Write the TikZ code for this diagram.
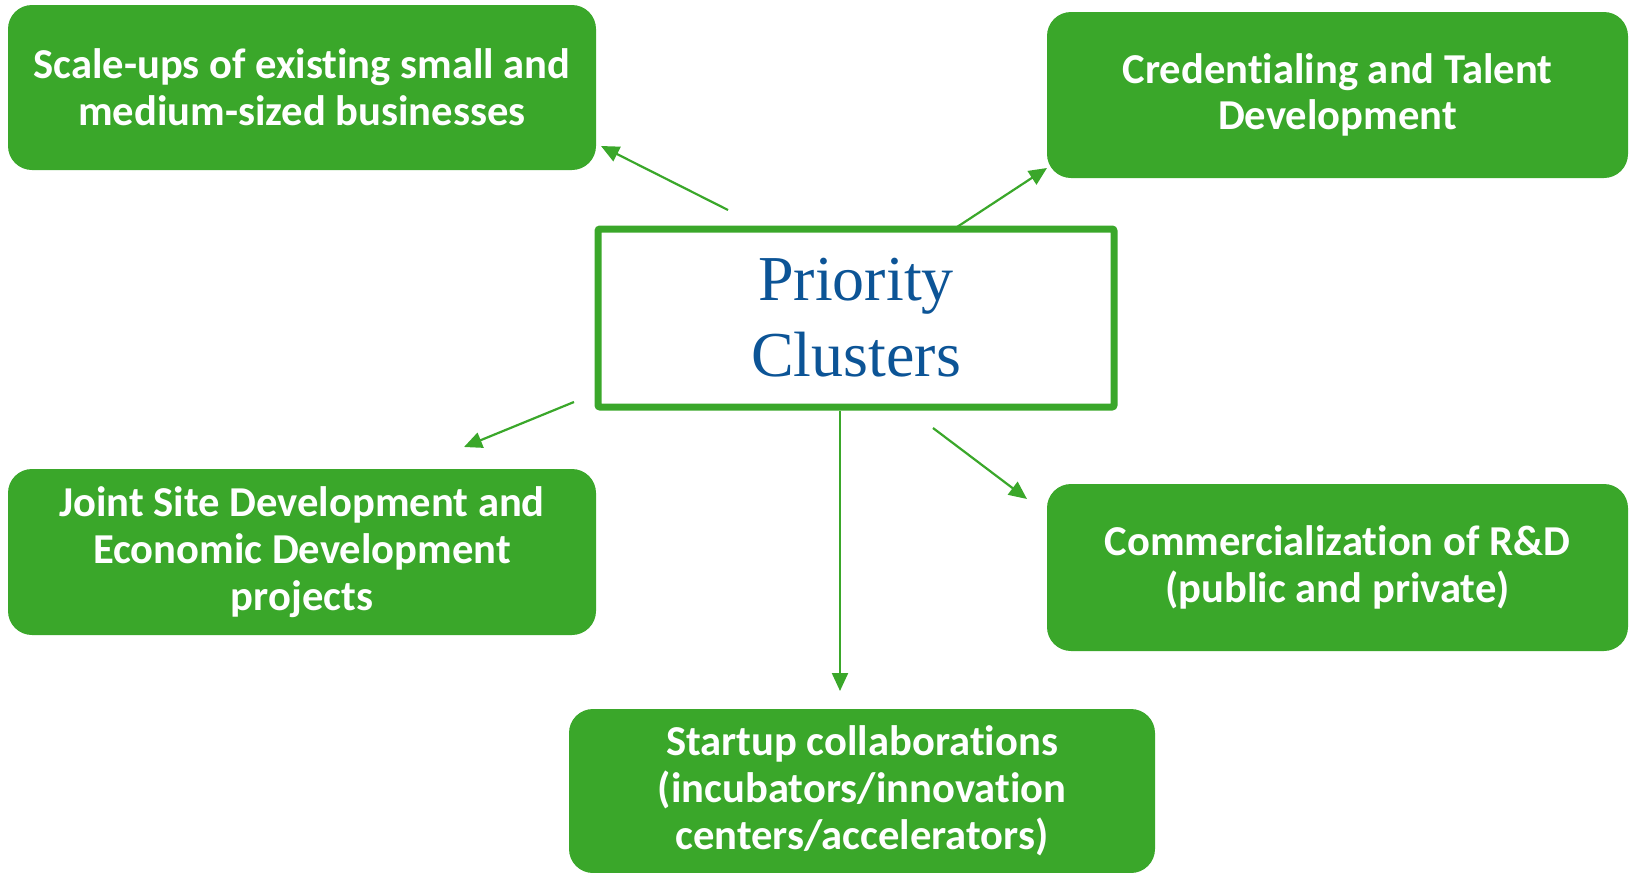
\documentclass[tikz,border=0pt]{standalone}
\usepackage{fontspec}
\setmainfont{Liberation Serif}
\newfontfamily\boxfont[Ligatures=CommonOff]{Carlito}
\usetikzlibrary{arrows.meta}

\definecolor{clustergreen}{RGB}{58,167,42}
\definecolor{clusterblue}{RGB}{12,84,150}

\begin{document}
\begin{tikzpicture}[x=0.5pt, y=-0.5pt,
    greenbox/.style={fill=clustergreen, rounded corners=12pt, text=white, align=center,
      inner sep=0pt, font=\boxfont\bfseries\fontsize{21.3}{23.4}\selectfont},
    link/.style={clustergreen, line width=1.1pt, -{Triangle[length=9pt,width=8pt]}}]

    % --- Canvas ---
    \useasboundingbox (0,0) rectangle (1630,873);

    % --- Centre box ---
    \node[draw=clustergreen, line width=3.5pt, rounded corners=1pt, minimum width=258pt,
      minimum height=89pt, align=center, text=clusterblue,
      font=\fontsize{32}{38}\selectfont] (priority) at (856,318) {Priority\\Clusters};

    % --- Outer boxes ---
    \node[greenbox, minimum width=294pt, minimum height=82.5pt] (scaleups) at (302,87.5)
      {Scale-ups of existing small and\\medium-sized businesses};
    \node[greenbox, minimum width=290.5pt, minimum height=83pt] (talent) at (1337.5,95)
      {Credentialing and Talent\\Development};
    \node[greenbox, minimum width=294pt, minimum height=83pt] (jointsite) at (302,552)
      {Joint Site Development and\\Economic Development\\projects};
    \node[greenbox, minimum width=290.5pt, minimum height=83.5pt] (commercial) at (1337.5,567.5)
      {Commercialization of R\&D\\(public and private)};
    \node[greenbox, minimum width=293pt, minimum height=82pt] (startup) at (862,791)
      {Startup collaborations\\(incubators/innovation\\centers/accelerators)};

    % --- Arrow ends ---
    \coordinate (fromScale) at (728,210);
    \coordinate (toScale) at (601,146);
    \coordinate (fromTalent) at (954,229);
    \coordinate (toTalent) at (1047,168);
    \coordinate (fromJoint) at (574,402);
    \coordinate (toJoint) at (464,447);
    \coordinate (toStartup) at (840,691);
    \coordinate (fromComm) at (933,428);
    \coordinate (toComm) at (1027,499);

    % --- Arrows ---
    \draw[link] (fromScale) -- (toScale);
    \draw[link] (fromTalent) -- (toTalent);
    \draw[link] (fromJoint) -- (toJoint);
    \draw[link] (priority.south -| toStartup) -- (toStartup);
    \draw[link] (fromComm) -- (toComm);

\end{tikzpicture}
\end{document}
